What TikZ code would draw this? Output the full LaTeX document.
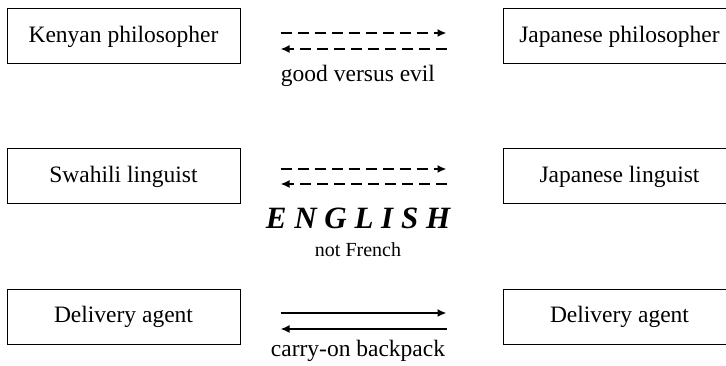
\documentclass[tikz,border=0pt]{standalone}
\usepackage{fontspec}
\setmainfont{Liberation Serif}
\usetikzlibrary{arrows.meta}

\newcommand{\RoleFont}{\fontsize{23.5}{27}\selectfont}

\begin{document}
\begin{tikzpicture}[x=1pt, y=1pt,
    role/.style={draw, line width=1pt, minimum width=233pt, minimum height=55pt,
                 inner sep=0pt, font=\RoleFont},
    flow/.style={line width=2pt, -{Latex[length=9pt, width=8pt]}},
    dashflow/.style={flow, dash pattern=on 11pt off 6pt},
    tag/.style={anchor=base, inner sep=0pt, font=\RoleFont}]
    \useasboundingbox (0,0) rectangle (726,366);

    % left column
    \node[role] (kenyan)  at (123.5,329.5) {Kenyan philosopher};
    \node[role] (swahili) at (123.5,189.5) {Swahili linguist};
    \node[role] (agentL)  at (123.5,49)    {Delivery agent};

    % right column
    \node[role] (japphil) at (619.5,329.5) {Japanese philosopher};
    \node[role] (japling) at (619.5,189.5) {Japanese linguist};
    \node[role] (agentR)  at (619.5,49)    {Delivery agent};

    % top pair
    \draw[dashflow] ([xshift=40pt, yshift=3.5pt]kenyan.east) -- ([xshift=-56pt, yshift=3.5pt]japphil.west);
    \draw[dashflow] ([xshift=-56pt, yshift=-12.5pt]japphil.west) -- ([xshift=40pt, yshift=-12.5pt]kenyan.east);
    \node[tag] (good) at (358,284) {good versus evil};

    % middle pair
    \draw[dashflow] ([xshift=40pt, yshift=7.5pt]swahili.east) -- ([xshift=-56pt, yshift=7.5pt]japling.west);
    \draw[dashflow] ([xshift=-56pt, yshift=-7.5pt]japling.west) -- ([xshift=40pt, yshift=-7.5pt]swahili.east);
    \node[tag, font=\fontsize{31}{34}\selectfont\bfseries\itshape] (english) at (358,137) {E N G L I S H};
    \node[tag, font=\fontsize{20}{24}\selectfont] (french) at (358,109) {not French};

    % bottom pair
    \draw[flow] ([xshift=40pt, yshift=4pt]agentL.east) -- ([xshift=-56pt, yshift=4pt]agentR.west);
    \draw[flow] ([xshift=-56pt, yshift=-12pt]agentR.west) -- ([xshift=40pt, yshift=-12pt]agentL.east);
    \node[tag] (backpack) at (358,9) {carry-on backpack};
\end{tikzpicture}
\end{document}
